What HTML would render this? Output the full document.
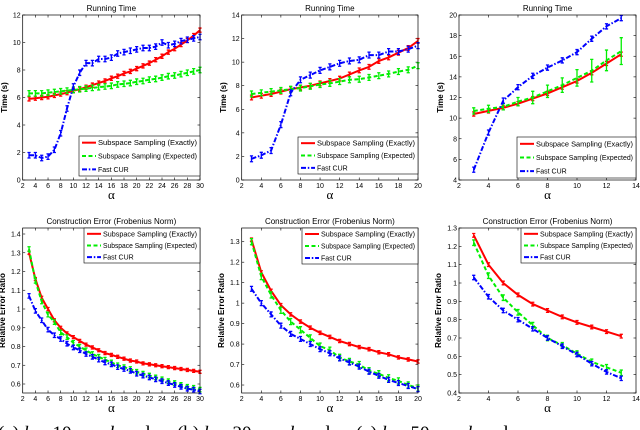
<!DOCTYPE html>
<html><head><meta charset="utf-8"><style>
html,body{margin:0;padding:0;background:#fff;width:640px;height:430px;overflow:hidden}
svg{display:block}
text{font-family:"Liberation Sans",sans-serif}
text.serif, .serif text{font-family:"Liberation Serif",serif}
</style></head><body>
<svg id="fig" width="640" height="430" xmlns="http://www.w3.org/2000/svg">
<g id="plots"></g>
<g class="serif" font-size="19" fill="#000">
<text x="-2" y="439">(a) <tspan font-style="italic">k</tspan> = 10, &#160;&#160;&#160;&#160;&#160; <tspan font-style="italic">k</tspan> and</text>
<text x="177" y="439">(b) <tspan font-style="italic">k</tspan> = 20, &#160;&#160;&#160;&#160;&#160; <tspan font-style="italic">k</tspan> and</text>
<text x="356" y="439">(c) <tspan font-style="italic">k</tspan> = 50, &#160;&#160;&#160;&#160;&#160; <tspan font-style="italic">k</tspan> and</text>
</g>
</svg>
<script>
// ---- data ----
const xA = [3,4,5,6,7,8,9,10,11,12,13,14,15,16,17,18,19,20,21,22,23,24,25,26,27,28,29,30];
const xB = [3,4,5,6,7,8,9,10,11,12,13,14,15,16,17,18,19,20];
const xC = [3,4,5,6,7,8,9,10,11,12,13];

const timeA_exact = [5.9,5.95,6.0,6.05,6.15,6.25,6.35,6.5,6.6,6.75,6.9,7.05,7.2,7.4,7.55,7.75,7.9,8.1,8.3,8.5,8.75,9.0,9.3,9.55,9.85,10.15,10.5,10.9];
const timeA_expected = [6.3,6.3,6.3,6.35,6.4,6.45,6.5,6.55,6.6,6.65,6.7,6.75,6.8,6.85,6.95,7.0,7.05,7.15,7.2,7.3,7.35,7.45,7.55,7.6,7.7,7.8,7.9,8.0];
const timeA_fast = [1.8,1.8,1.6,1.7,2.2,3.4,5.2,6.8,7.8,8.5,8.5,8.8,8.8,8.9,9.2,9.3,9.4,9.5,9.6,9.6,9.7,10.0,9.8,9.9,10.1,10.2,10.3,10.4];

const timeB_exact = [7.0,7.15,7.3,7.5,7.7,7.85,8.0,8.2,8.4,8.6,8.95,9.3,9.6,10.1,10.4,10.8,11.2,11.8];
const timeB_expected = [7.3,7.4,7.5,7.6,7.7,7.8,7.95,8.1,8.2,8.35,8.5,8.55,8.7,8.85,9.0,9.2,9.35,9.7];
const timeB_fast = [1.8,2.1,2.5,4.7,7.4,8.5,8.9,9.3,9.6,9.9,10.1,10.2,10.6,10.6,10.9,10.9,11.1,11.4];

const timeC_exact = [10.4,10.7,11.0,11.4,11.9,12.4,13.0,13.6,14.4,15.3,16.2];
const timeC_expected = [10.7,10.9,11.1,11.6,12.0,12.6,13.2,13.9,14.6,15.6,16.5];
const timeC_fast = [5.0,8.6,11.7,13.0,14.1,14.9,15.6,16.4,17.7,18.9,19.7];
const timeC_expected_err = [0.3,0.35,0.3,0.4,0.6,0.6,0.7,0.8,1.1,1.0,1.3];

const errA_exact = [1.30,1.16,1.06,1.0,0.94,0.90,0.87,0.85,0.83,0.81,0.795,0.78,0.765,0.755,0.745,0.735,0.725,0.72,0.71,0.705,0.70,0.695,0.69,0.685,0.68,0.675,0.67,0.665];
const errA_expected = [1.32,1.15,1.04,0.97,0.93,0.875,0.85,0.82,0.80,0.78,0.76,0.745,0.73,0.715,0.70,0.69,0.68,0.665,0.655,0.645,0.635,0.625,0.615,0.605,0.595,0.585,0.58,0.57];
const errA_fast = [1.07,0.99,0.94,0.89,0.86,0.84,0.815,0.795,0.78,0.76,0.745,0.73,0.715,0.705,0.69,0.68,0.67,0.655,0.645,0.635,0.625,0.615,0.605,0.595,0.585,0.575,0.57,0.56];

const errB_exact = [1.31,1.15,1.06,0.99,0.945,0.91,0.88,0.855,0.835,0.815,0.80,0.785,0.775,0.76,0.75,0.735,0.725,0.715];
const errB_expected = [1.30,1.13,1.04,0.965,0.91,0.87,0.83,0.79,0.77,0.735,0.715,0.70,0.67,0.655,0.635,0.62,0.60,0.585];
const errB_fast = [1.07,1.0,0.945,0.89,0.85,0.825,0.80,0.775,0.755,0.73,0.71,0.69,0.665,0.645,0.625,0.61,0.595,0.58];

const errC_exact = [1.26,1.10,1.00,0.935,0.885,0.85,0.815,0.785,0.76,0.735,0.71];
const errC_expected = [1.22,1.04,0.92,0.84,0.77,0.70,0.66,0.615,0.57,0.54,0.51];
const errC_fast = [1.03,0.925,0.85,0.80,0.75,0.70,0.655,0.61,0.56,0.515,0.48];

const ticksXA = [2,4,6,8,10,12,14,16,18,20,22,24,26,28,30];
const ticksXB = [2,4,6,8,10,12,14,16,18,20];
const ticksXC = [2,4,6,8,10,12,14];
const ticksYTA = [0,2,4,6,8,10,12];
const ticksYTB = [0,2,4,6,8,10,12,14];
const ticksYTC = [4,6,8,10,12,14,16,18,20];
const ticksYEA = [0.6,0.7,0.8,0.9,1,1.1,1.2,1.3,1.4];
const ticksYEB = [0.6,0.7,0.8,0.9,1,1.1,1.2,1.3];
const ticksYEC = [0.4,0.5,0.6,0.7,0.8,0.9,1,1.1,1.2,1.3];
const legendLabels = ["Subspace Sampling (Exactly)","Subspace Sampling (Expected)","Fast CUR"];

// ---- drawing ----
const NS="http://www.w3.org/2000/svg";
const root=document.getElementById('plots');
function mk(tag,attrs,parent){const e=document.createElementNS(NS,tag);for(const k in attrs)e.setAttribute(k,attrs[k]);(parent||root).appendChild(e);return e;}
const styles=[{c:'#ff0000',d:''},{c:'#00ee00',d:'4,2.5'},{c:'#0000ff',d:'5,1.8,1.5,1.8'}];

function panel(cfg){
  const g=mk('g',{});
  
  
  const L=cfg.box[0],R=cfg.box[1],T=cfg.box[2],B=cfg.box[3];
  const sx=v=>L+(v-cfg.xl[0])/(cfg.xl[1]-cfg.xl[0])*(R-L);
  const sy=v=>B-(v-cfg.yl[0])/(cfg.yl[1]-cfg.yl[0])*(B-T);
  mk('rect',{x:L,y:T,width:R-L,height:B-T,fill:'#fff',stroke:'none'},g);
  cfg.xt.forEach(t=>{const x=sx(t);
    mk('line',{x1:x,y1:B,x2:x,y2:B-2.5,stroke:'#000','stroke-width':0.6},g);
    mk('line',{x1:x,y1:T,x2:x,y2:T+2.5,stroke:'#000','stroke-width':0.6},g);
    const tx=mk('text',{x:x,y:B+8,'font-size':7,'text-anchor':'middle',fill:'#000'},g);tx.textContent=t;
    
    
  });
  cfg.yt.forEach(t=>{const y=sy(t);
    mk('line',{x1:L,y1:y,x2:L+2.5,y2:y,stroke:'#000','stroke-width':0.6},g);
    mk('line',{x1:R,y1:y,x2:R-2.5,y2:y,stroke:'#000','stroke-width':0.6},g);
    const tx=mk('text',{x:L-2,y:y+2.5,'font-size':7,'text-anchor':'end',fill:'#000'},g);tx.textContent=t;
    
    
  });
  cfg.series.forEach((s,i)=>{
    const st=styles[i];
    const sg=mk('g',{},g);
    
    
    s.y.forEach((v,j)=>{const e=Array.isArray(s.e)?s.e[j]:s.e;const x=sx(cfg.x[j]);
      mk('path',{d:`M${x},${sy(v-e)}V${sy(v+e)}M${x-1.6},${sy(v-e)}h3.2M${x-1.6},${sy(v+e)}h3.2`,stroke:st.c,'stroke-width':1.3,fill:'none'},sg);});
    const pts=s.y.map((v,j)=>sx(cfg.x[j]).toFixed(1)+','+sy(v).toFixed(1)).join(' ');
    const pl=mk('polyline',{points:pts,fill:'none',stroke:st.c,'stroke-width':2,'stroke-dasharray':st.d},sg);
    
    
  });
  mk('rect',{x:L,y:T,width:R-L,height:B-T,fill:'none',stroke:'#000','stroke-width':0.7},g);
  const lg=cfg.leg;
  const leg=mk('g',{},g);
  
  
  mk('rect',{x:lg[0],y:lg[1],width:R-lg[0],height:lg[2],fill:'#fff',stroke:'#000','stroke-width':0.6},leg);
  const rh=lg[2]/3;
  legendLabels.forEach((lab,i)=>{const y=lg[1]+rh*(i+0.5);
    mk('line',{x1:lg[0]+3,y1:y,x2:lg[0]+17,y2:y,stroke:styles[i].c,'stroke-width':2,'stroke-dasharray':styles[i].d},leg);
    const t=mk('text',{x:lg[0]+19,y:y+2.5,'font-size':7,fill:'#000'},leg);
    if(i<2){t.setAttribute('textLength',R-lg[0]-22);t.setAttribute('lengthAdjust','spacingAndGlyphs');}
    t.textContent=lab;
    
    
  });
  const tt=mk('text',{x:(L+R)/2,y:T-4,'font-size':8,'text-anchor':'middle',fill:'#000'},g);tt.textContent=cfg.title;
  
  
  const xl=mk('text',{x:(L+R)/2,y:B+19,'font-size':13,'text-anchor':'middle',class:'serif',fill:'#000'},g);xl.textContent='α';
  
  
  const yx=cfg.ylx, yy=(T+B)/2;
  const yl=mk('text',{x:yx,y:yy,'font-size':8,'font-weight':'bold','text-anchor':'middle',transform:`rotate(-90 ${yx} ${yy})`,fill:'#000'},g);yl.textContent=cfg.ylab;
  
  
}
const TT=15,TB=180,BT=228,BB=393;
panel({name:'running-time-k10',box:[22.7,200,TT,TB],xl:[2,30],yl:[0,12],x:xA,xt:ticksXA,yt:ticksYTA,title:'Running Time',ylab:'Time (s)',ylx:7,leg:[79,136,40],
  series:[{y:timeA_exact,e:0.15},{y:timeA_expected,e:0.2},{y:timeA_fast,e:0.2}]});
panel({name:'running-time-k20',box:[241.7,418,TT,TB],xl:[2,20],yl:[0,14],x:xB,xt:ticksXB,yt:ticksYTB,title:'Running Time',ylab:'Time (s)',ylx:226,leg:[298,137,37],
  series:[{y:timeB_exact,e:0.2},{y:timeB_expected,e:0.25},{y:timeB_fast,e:0.25}]});
panel({name:'running-time-k50',box:[459,636,TT,TB],xl:[2,14],yl:[4,20],x:xC,xt:ticksXC,yt:ticksYTC,title:'Running Time',ylab:'Time (s)',ylx:443,leg:[517,137,41],
  series:[{y:timeC_exact,e:0.2},{y:timeC_expected,e:timeC_expected_err},{y:timeC_fast,e:0.25}]});
panel({name:'error-k10',box:[22.7,200,BT,BB],xl:[2,30],yl:[0.552,1.432],x:xA,xt:ticksXA,yt:ticksYEA,title:'Construction Error (Frobenius Norm)',ylab:'Relative Error Ratio',ylx:5,leg:[84,228,35],
  series:[{y:errA_exact,e:0.008},{y:errA_expected,e:0.012},{y:errA_fast,e:0.012}]});
panel({name:'error-k20',box:[241.7,418,BT,BB],xl:[2,20],yl:[0.561,1.367],x:xB,xt:ticksXB,yt:ticksYEB,title:'Construction Error (Frobenius Norm)',ylab:'Relative Error Ratio',ylx:224,leg:[302,228,36],
  series:[{y:errB_exact,e:0.008},{y:errB_expected,e:0.015},{y:errB_fast,e:0.012}]});
panel({name:'error-k50',box:[459,636,BT,BB],xl:[2,14],yl:[0.4,1.3],x:xC,xt:ticksXC,yt:ticksYEC,title:'Construction Error (Frobenius Norm)',ylab:'Relative Error Ratio',ylx:441,leg:[521,228,35],
  series:[{y:errC_exact,e:0.01},{y:errC_expected,e:0.015},{y:errC_fast,e:0.012}]});
</script>
</body></html>
